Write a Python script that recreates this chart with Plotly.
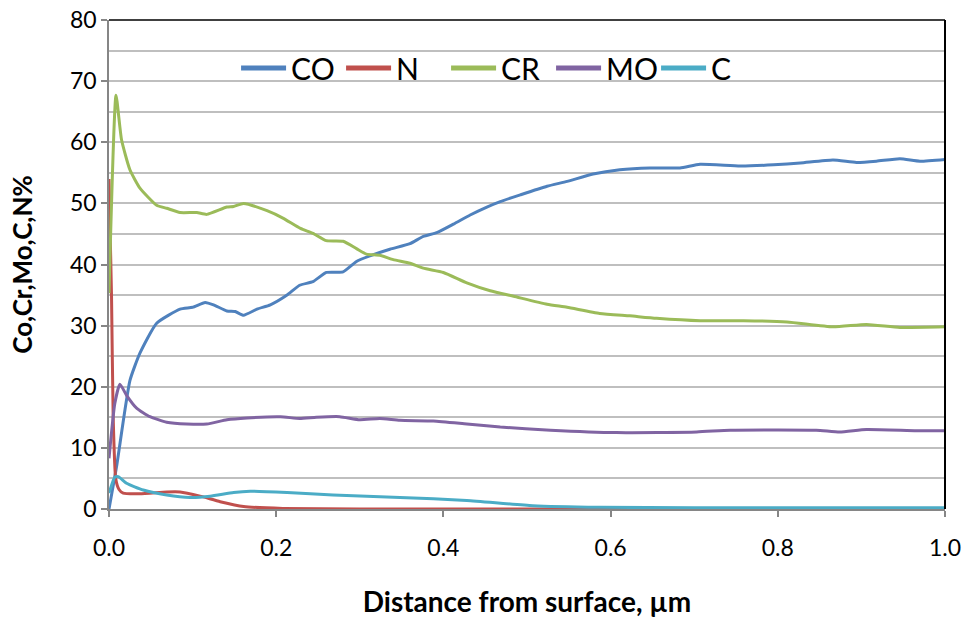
import plotly.graph_objects as go

co_x = [0.0, 0.009, 0.025, 0.037, 0.057, 0.085, 0.100, 0.115, 0.125, 0.141, 0.151, 0.161, 0.177, 0.193, 0.213,
        0.228, 0.244, 0.260, 0.280, 0.296, 0.312, 0.336, 0.360, 0.376, 0.392, 0.412, 0.432, 0.452, 0.468, 0.492,
        0.524, 0.548, 0.579, 0.611, 0.647, 0.683, 0.707, 0.755, 0.795, 0.827, 0.866, 0.894, 0.918, 0.946, 0.970, 1.0]
co_y = [0.0, 6.9, 21.0, 25.5, 30.4, 32.7, 33.0, 33.8, 33.4, 32.4, 32.3, 31.7, 32.7, 33.4, 35.0,
        36.6, 37.2, 38.7, 38.8, 40.5, 41.4, 42.5, 43.4, 44.6, 45.2, 46.6, 48.1, 49.4, 50.3, 51.4,
        52.8, 53.6, 54.8, 55.5, 55.8, 55.8, 56.4, 56.1, 56.3, 56.6, 57.1, 56.7, 56.9, 57.3, 56.9, 57.2]

n_x = [0.0, 0.003, 0.005, 0.008, 0.012, 0.017, 0.037, 0.069, 0.085, 0.109, 0.133, 0.161, 0.208, 0.3, 0.5, 0.7, 1.0]
n_y = [54.0, 35.0, 15.0, 5.0, 3.2, 2.6, 2.5, 2.8, 2.8, 2.1, 1.2, 0.4, 0.1, 0.0, 0.0, 0.0, 0.0]

cr_x = [0.0, 0.0084, 0.015, 0.025, 0.037, 0.057, 0.069, 0.085, 0.105, 0.117, 0.141, 0.149, 0.161, 0.189, 0.208,
        0.229, 0.244, 0.260, 0.280, 0.296, 0.308, 0.324, 0.340, 0.360, 0.376, 0.400, 0.428, 0.456, 0.484, 0.524,
        0.548, 0.587, 0.623, 0.655, 0.707, 0.759, 0.811, 0.866, 0.906, 0.946, 1.0]
cr_y = [35.3, 67.7, 60.4, 55.5, 52.5, 49.7, 49.2, 48.5, 48.5, 48.2, 49.4, 49.5, 50.0, 48.8, 47.6,
        45.9, 45.1, 43.9, 43.8, 42.6, 41.7, 41.5, 40.8, 40.2, 39.4, 38.7, 37.0, 35.7, 34.8, 33.5,
        33.0, 32.0, 31.6, 31.2, 30.8, 30.8, 30.6, 29.8, 30.2, 29.7, 29.8]

mo_x = [0.0, 0.007, 0.013, 0.021, 0.033, 0.049, 0.069, 0.093, 0.117, 0.141, 0.165, 0.205, 0.228, 0.248, 0.276,
        0.300, 0.324, 0.348, 0.388, 0.428, 0.468, 0.528, 0.607, 0.703, 0.743, 0.846, 0.874, 0.906, 0.966, 1.0]
mo_y = [8.3, 17.3, 20.4, 18.6, 16.5, 15.1, 14.2, 13.9, 13.9, 14.6, 14.9, 15.1, 14.8, 15.0, 15.1,
        14.6, 14.8, 14.5, 14.4, 13.9, 13.4, 12.9, 12.5, 12.6, 12.9, 12.9, 12.6, 13.0, 12.8, 12.8]

c_x = [0.0, 0.007, 0.011, 0.021, 0.041, 0.069, 0.097, 0.121, 0.149, 0.169, 0.213, 0.268, 0.348, 0.428, 0.507,
       0.587, 0.7, 0.85, 1.0]
c_y = [2.6, 5.2, 5.3, 4.2, 3.1, 2.3, 1.9, 2.1, 2.7, 2.9, 2.7, 2.3, 1.9, 1.4, 0.55,
       0.28, 0.2, 0.2, 0.2]

series = [
    ("CO", co_x, co_y, "#4F81BD"),
    ("N", n_x, n_y, "#C0504D"),
    ("CR", cr_x, cr_y, "#9BBB59"),
    ("MO", mo_x, mo_y, "#8064A2"),
    ("C", c_x, c_y, "#4BACC6"),
]

FONT = "Lato, 'Open Sans', sans-serif"

fig = go.Figure()
for name, xs, ys, col in series:
    fig.add_trace(go.Scatter(x=xs, y=ys, name=name, mode="lines",
                             line=dict(color=col, width=3, shape="spline", smoothing=0.5)))

fig.update_layout(
    width=963, height=628,
    margin=dict(l=109, r=18, t=20, b=119, autoexpand=False),
    plot_bgcolor="white", paper_bgcolor="white",
    font=dict(family=FONT, size=22, color="black"),
    showlegend=True,
    legend=dict(orientation="h", x=0.152, y=0.902, xanchor="left", yanchor="middle",
                font=dict(size=30, family=FONT, color="black"),
                bgcolor="rgba(0,0,0,0)", itemwidth=45, tracegroupgap=0,
                entrywidth=45, entrywidthmode="pixels",
                itemsizing="constant"),
)

fig.update_xaxes(
    range=[0, 1.0], tick0=0, dtick=0.2, tickformat=".1f",
    showgrid=False, zeroline=False, automargin=False,
    showline=True, linecolor="#868686", linewidth=1.5,
    ticks="outside", ticklen=6, tickcolor="#868686", tickwidth=1.5,
    ticklabelstandoff=12,
    tickfont=dict(size=23, family=FONT),
    title=dict(text="<b>Distance from surface, µm</b>", font=dict(size=28, family=FONT), standoff=32),
)
fig.update_yaxes(
    range=[0, 80], tick0=0, dtick=10,
    showgrid=True, gridcolor="#BFBFBF", gridwidth=1.5,
    minor=dict(dtick=5, showgrid=True, gridcolor="#BFBFBF", gridwidth=1.5),
    zeroline=False, automargin=False,
    showline=True, linecolor="#868686", linewidth=1.5,
    ticks="outside", ticklen=6, tickcolor="#868686", tickwidth=1.5,
    tickfont=dict(size=23, family=FONT),
    title=dict(text="<b>Co,Cr,Mo,C,N%</b>", font=dict(size=26, family=FONT), standoff=30),
)

# Plot-area border (top and right black)
fig.add_shape(type="line", xref="paper", yref="paper", x0=0, x1=1, y0=1, y1=1,
              line=dict(color="black", width=1.5))
fig.add_shape(type="line", xref="paper", yref="paper", x0=1, x1=1, y0=0, y1=1,
              line=dict(color="black", width=2))

fig.write_html("out.html")
